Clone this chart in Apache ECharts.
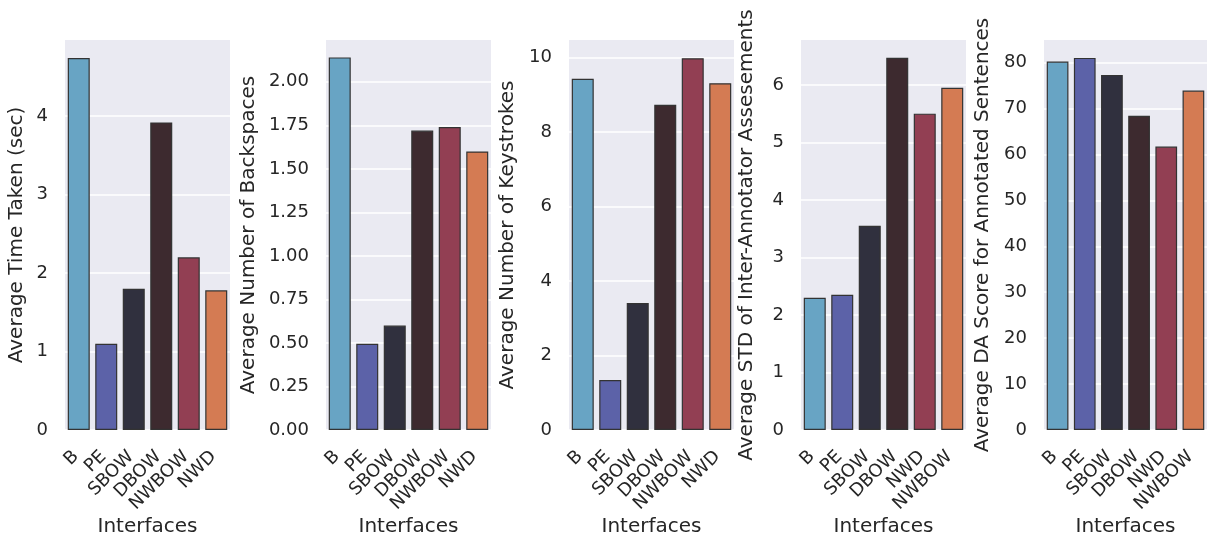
<!DOCTYPE html>
<html>
<head>
<meta charset="utf-8">
<script src="https://cdn.jsdelivr.net/npm/echarts@6/dist/echarts.min.js"></script>
<style>html,body{margin:0;padding:0;background:#fff}#c{width:1208px;height:538px}</style>
</head>
<body>
<div id="c"></div>
<script>
// ---- data ----
const catsA = ['B', 'PE', 'SBOW', 'DBOW', 'NWBOW', 'NWD'];
const catsB = ['B', 'PE', 'SBOW', 'DBOW', 'NWD', 'NWBOW'];
const timeTaken = [4.74, 1.10, 1.80, 3.92, 2.20, 1.78];
const backspaces = [2.14, 0.495, 0.60, 1.72, 1.74, 1.60];
const keystrokes = [9.43, 1.34, 3.41, 8.73, 9.98, 9.31];
const stdIAA = [2.30, 2.35, 3.55, 6.47, 5.50, 5.95];
const daScore = [80.2, 81.0, 77.3, 68.4, 61.7, 73.9];
const palette = ['#68a4c4', '#5c62a8', '#30303e', '#3d2a2f', '#923f53', '#d47b53'];

const panels = [
  {cats: catsA, vals: timeTaken, name: 'Average Time Taken (sec)', max: 4.97, interval: 1, dec: 0, left: 65, right: 230, gap: 38},
  {cats: catsA, vals: backspaces, name: 'Average Number of Backspaces', max: 2.24, interval: 0.25, dec: 2, left: 326, right: 491, gap: 67},
  {cats: catsA, vals: keystrokes, name: 'Average Number of Keystrokes', max: 10.47, interval: 2, dec: 0, left: 569, right: 734, gap: 51},
  {cats: catsB, vals: stdIAA, name: 'Average STD of Inter-Annotator Assesements', max: 6.78, interval: 1, dec: 0, left: 801, right: 966, gap: 44},
  {cats: catsB, vals: daScore, name: 'Average DA Score for Annotated Sentences', max: 84.9, interval: 10, dec: 0, left: 1044, right: 1207, gap: 51}
];

const txt = '#262626';
const font = 'DejaVu Sans';
const grid = [], xAxis = [], yAxis = [], series = [];
panels.forEach((p, i) => {
  grid.push({left: p.left, width: p.right - p.left, top: 40, height: 390, show: true,
    backgroundColor: '#eaeaf2', borderWidth: 0, containLabel: false, outerBoundsMode: 'none'});
  xAxis.push({type: 'category', gridIndex: i, data: p.cats,
    axisLine: {show: false}, axisTick: {show: false}, splitLine: {show: false},
    axisLabel: {rotate: 45, color: txt, fontFamily: font, fontSize: 18, margin: 21, interval: 0,
      padding: [0, 4, 0, 0]},
    name: 'Interfaces', nameLocation: 'middle', nameGap: 87, nameMoveOverlap: false,
    nameTextStyle: {color: txt, fontFamily: font, fontSize: 20}});
  yAxis.push({type: 'value', gridIndex: i, min: 0, max: p.max, interval: p.interval,
    axisLine: {show: false}, axisTick: {show: false},
    splitLine: {show: true, showMaxLine: false, lineStyle: {color: '#ffffff', width: 1.5}},
    axisLabel: {color: txt, fontFamily: font, fontSize: 18, margin: 17, showMaxLabel: false,
      formatter: v => (Math.abs(v / p.interval - Math.round(v / p.interval)) < 1e-6) ? v.toFixed(p.dec) : ''},
    name: p.name, nameLocation: 'middle', nameGap: p.gap, nameRotate: 90, nameMoveOverlap: false,
    nameTextStyle: {color: txt, fontFamily: font, fontSize: 20, verticalAlign: 'bottom'}});
  series.push({type: 'bar', xAxisIndex: i, yAxisIndex: i, data: p.vals, barWidth: '80%',
    itemStyle: {color: q => palette[q.dataIndex], borderColor: '#333333', borderWidth: 1.2},
    emphasis: {disabled: true}});
});

const chart = echarts.init(document.getElementById('c'), null, {renderer: 'canvas'});
chart.setOption({animation: false, backgroundColor: '#ffffff', grid, xAxis, yAxis, series});
</script>
</body>
</html>
